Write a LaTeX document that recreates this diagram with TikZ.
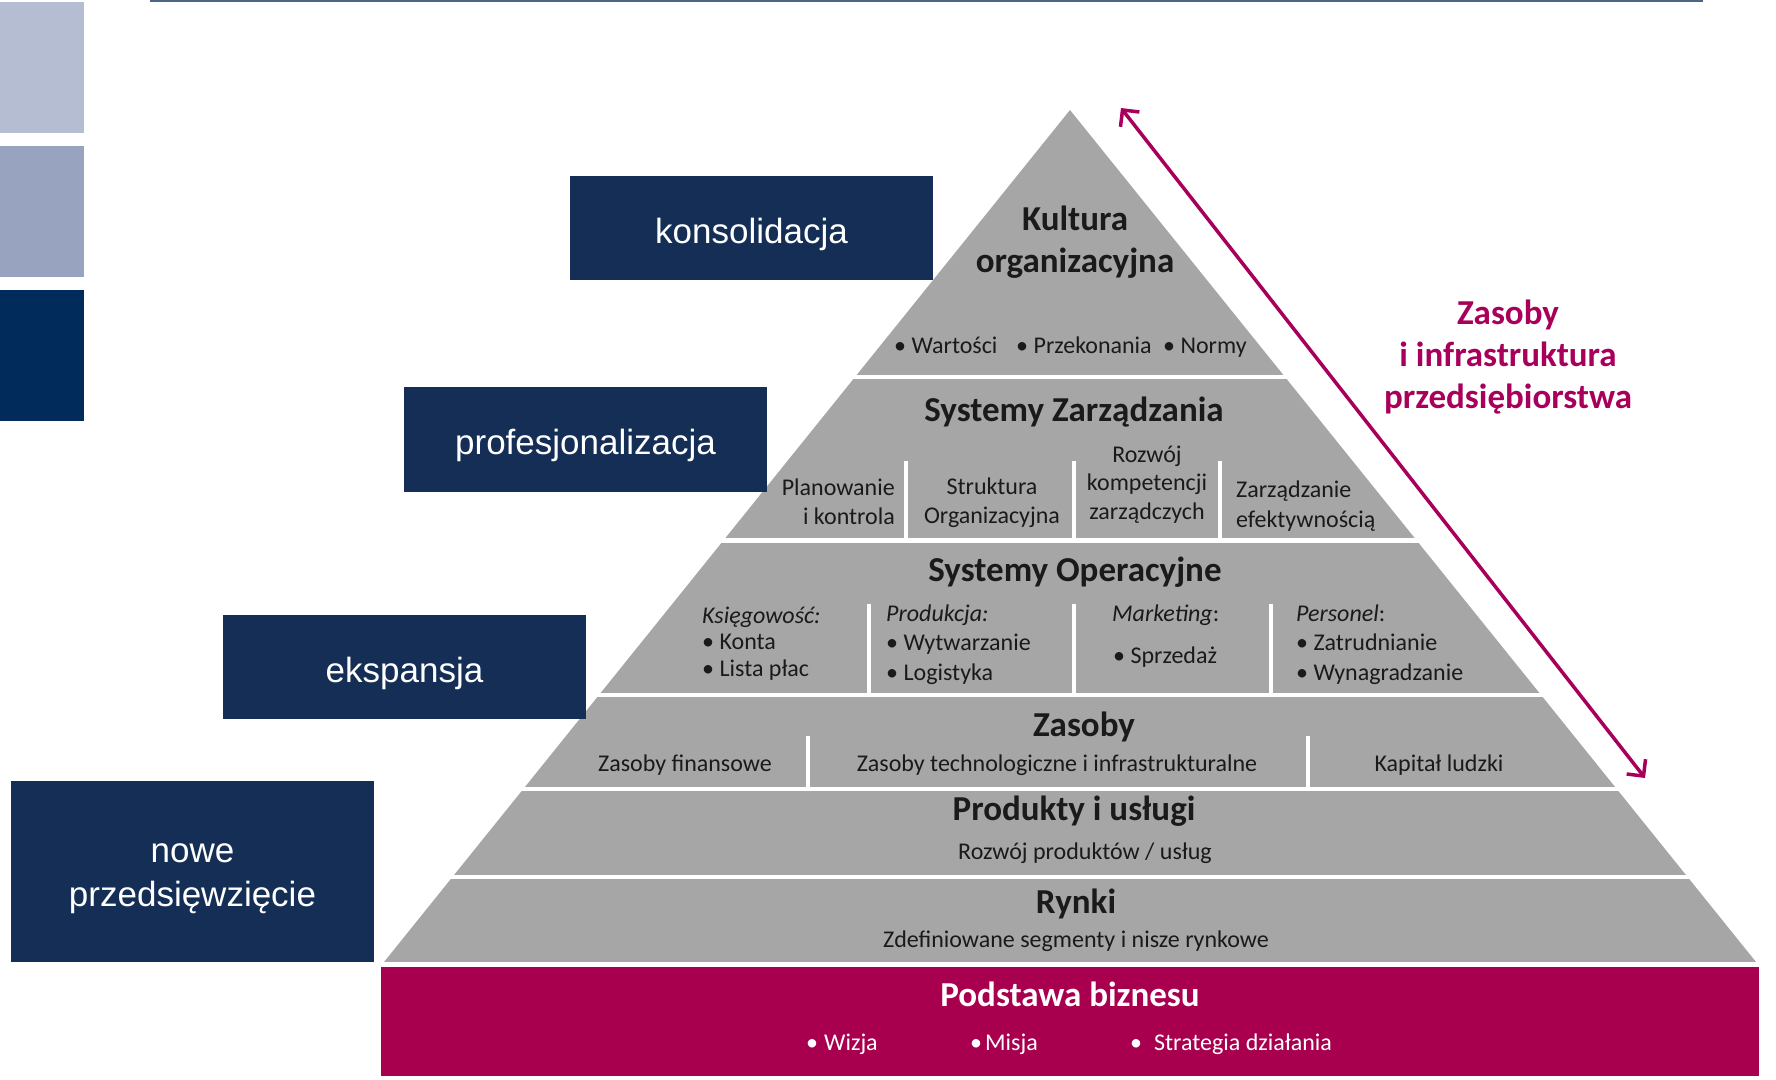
\documentclass[tikz,border=0pt]{standalone}
\usepackage{fontspec}
\setmainfont{Carlito}
\newfontfamily\arialf{Liberation Sans}
\usetikzlibrary{arrows.meta}
\definecolor{pgray}{HTML}{A6A6A6}
\definecolor{navy}{HTML}{142E55}
\definecolor{sqA}{HTML}{B5BDD3}
\definecolor{sqB}{HTML}{98A3BF}
\definecolor{sqC}{HTML}{002B5A}
\definecolor{magen}{HTML}{A8004F}
\definecolor{arrowc}{HTML}{A8005A}
\definecolor{topline}{HTML}{4F6588}
\definecolor{txt}{HTML}{1A1A1A}
\begin{document}
\begin{tikzpicture}[x=1pt,y=-1pt,
  ttl/.style={font=\fontsize{35}{42}\selectfont\bfseries, text=txt, inner sep=0pt, anchor=base},
  itm/.style={font=\fontsize{24}{28}\selectfont, text=txt, inner sep=0pt, anchor=base},
  itml/.style={itm, anchor=base west},
  itmr/.style={itm, anchor=base east},
  navybox/.style={fill=navy, text=white, font=\arialf\fontsize{35}{44}\selectfont, inner sep=0pt, align=center, minimum width=363pt},
  boxtext/.style={text=white, font=\arialf\fontsize{35}{44}\selectfont, inner sep=0pt, align=center},
  divider/.style={white, line width=3.5pt},
  layer/.style={fill=pgray},
  sidelbl/.style={font=\fontsize{35}{42}\selectfont\bfseries, text=arrowc, inner sep=0pt, anchor=base}
]
\useasboundingbox (0,0) rectangle (1776,1079);
% top line and side squares
\draw[topline, line width=2pt] (150,1) -- (1703,1);
\fill[sqA] (0,2) rectangle (84,133);
\fill[sqB] (0,146) rectangle (84,277);
\fill[sqC] (0,290) rectangle (84,421);
% pyramid layers
\begin{scope}
\clip (1070,110) -- (384,962) -- (1756,962) -- cycle;
\fill[layer] (370,100) rectangle (1770,375);
\fill[layer] (370,379) rectangle (1770,538);
\fill[layer] (370,543) rectangle (1770,693);
\fill[layer] (370,697) rectangle (1770,787);
\fill[layer] (370,791) rectangle (1770,875);
\fill[layer] (370,879) rectangle (1770,962);
\end{scope}
% dividers
\draw[divider] (906,461) -- (906,538);
\draw[divider] (1074,461) -- (1074,538);
\draw[divider] (1220,461) -- (1220,538);
\draw[divider] (869,604) -- (869,693);
\draw[divider] (1074,604) -- (1074,693);
\draw[divider] (1271,604) -- (1271,693);
\draw[divider] (808,736) -- (808,787);
\draw[divider] (1308,736) -- (1308,787);
% base
\node[fill=magen, minimum width=1378pt, minimum height=109pt, inner sep=0pt] (podst) at (1070,1021.5) {};
% Kultura
\node[ttl] (k1) at (1075,230) {Kultura};
\node[ttl] (k2) at (1075,272) {organizacyjna};
\node[itml] (k3) at (894,353) {• Wartości};
\node[itml] (k4) at (1016,353) {• Przekonania};
\node[itml] (k5) at (1163,353) {• Normy};
% Systemy Zarzadzania
\node[ttl] (sz) at (1074,421) {Systemy Zarządzania};
\node[itmr] (sz1a) at (895,495) {Planowanie};
\node[itmr] (sz1b) at (895,524) {i kontrola};
\node[itm] (sz2a) at (992,494) {Struktura};
\node[itm] (sz2b) at (992,523) {Organizacyjna};
\node[itm] (sz3a) at (1147,462) {Rozwój};
\node[itm] (sz3b) at (1147,490) {kompetencji};
\node[itm] (sz3c) at (1147,519) {zarządczych};
\node[itml] (sz4a) at (1236,497) {Zarządzanie};
\node[itml] (sz4b) at (1236,527) {efektywnością};
% Systemy Operacyjne
\node[ttl] (so) at (1075,581) {Systemy Operacyjne};
\node[itml] (so1a) at (702,623) {\itshape Księgowość:};
\node[itml] (so1b) at (702,649) {• Konta};
\node[itml] (so1c) at (702,676) {• Lista płac};
\node[itml] (so2a) at (886,621) {\itshape Produkcja:};
\node[itml] (so2b) at (886,650) {• Wytwarzanie};
\node[itml] (so2c) at (886,680) {• Logistyka};
\node[itml] (so3a) at (1112,621) {\textit{Marketing}:};
\node[itml] (so3b) at (1113,663) {• Sprzedaż};
\node[itml] (so4a) at (1296,621) {\textit{Personel}:};
\node[itml] (so4b) at (1296,650) {• Zatrudnianie};
\node[itml] (so4c) at (1296,680) {• Wynagradzanie};
% Zasoby
\node[ttl] (zs) at (1084,736) {Zasoby};
\node[itm] (zs1) at (685,771) {Zasoby finansowe};
\node[itm] (zs2) at (1057,771) {Zasoby technologiczne i infrastrukturalne};
\node[itm] (zs3) at (1439,771) {Kapitał ludzki};
% Produkty
\node[ttl] (pr) at (1074,820) {Produkty i usługi};
\node[itm] (pr1) at (1085,859) {Rozwój produktów / usług};
% Rynki
\node[ttl] (ry) at (1076,913) {Rynki};
\node[itm] (ry1) at (1076,947) {Zdefiniowane segmenty i nisze rynkowe};
% Podstawa
\node[ttl, text=white] (pb) at (1070,1006) {Podstawa biznesu};
\node[itml, text=white] (pb1) at (806,1050) {•\hspace{6pt}Wizja};
\node[itml, text=white] (pb2) at (970,1050) {•\hspace{3pt}Misja};
\node[itml, text=white] (pb3) at (1130,1050) {•\hspace{12pt}Strategia działania};
% left boxes
\node[navybox, minimum height=104pt, text height=30pt, text depth=0pt] (kons) at (751.5,228) {konsolidacja};
\node[navybox, minimum height=105pt, text height=30pt, text depth=0pt] (prof) at (585.5,439.5) {profesjonalizacja};
\node[navybox, minimum height=104pt, text height=30pt, text depth=0pt] (eksp) at (404.5,667) {ekspansja};
\node[navybox, minimum height=181pt] (nowe) at (192.5,871.5) {};
\node[boxtext, yshift=-7pt] (nowet) at (nowe.center) {nowe\\przedsięwzięcie};
% arrow and side label
\coordinate (arrTop) at (1121,108);
\coordinate (arrBot) at (1645,778);
\draw[arrowc, line width=3.5pt, {Straight Barb[length=12pt,width=24pt]}-{Straight Barb[length=12pt,width=24pt]}] (arrTop) -- (arrBot);
\node[sidelbl] (sl1) at (1508,324) {Zasoby};
\node[sidelbl] (sl2) at (1508,366) {i infrastruktura};
\node[sidelbl] (sl3) at (1508,408) {przedsiębiorstwa};
\end{tikzpicture}
\end{document}
